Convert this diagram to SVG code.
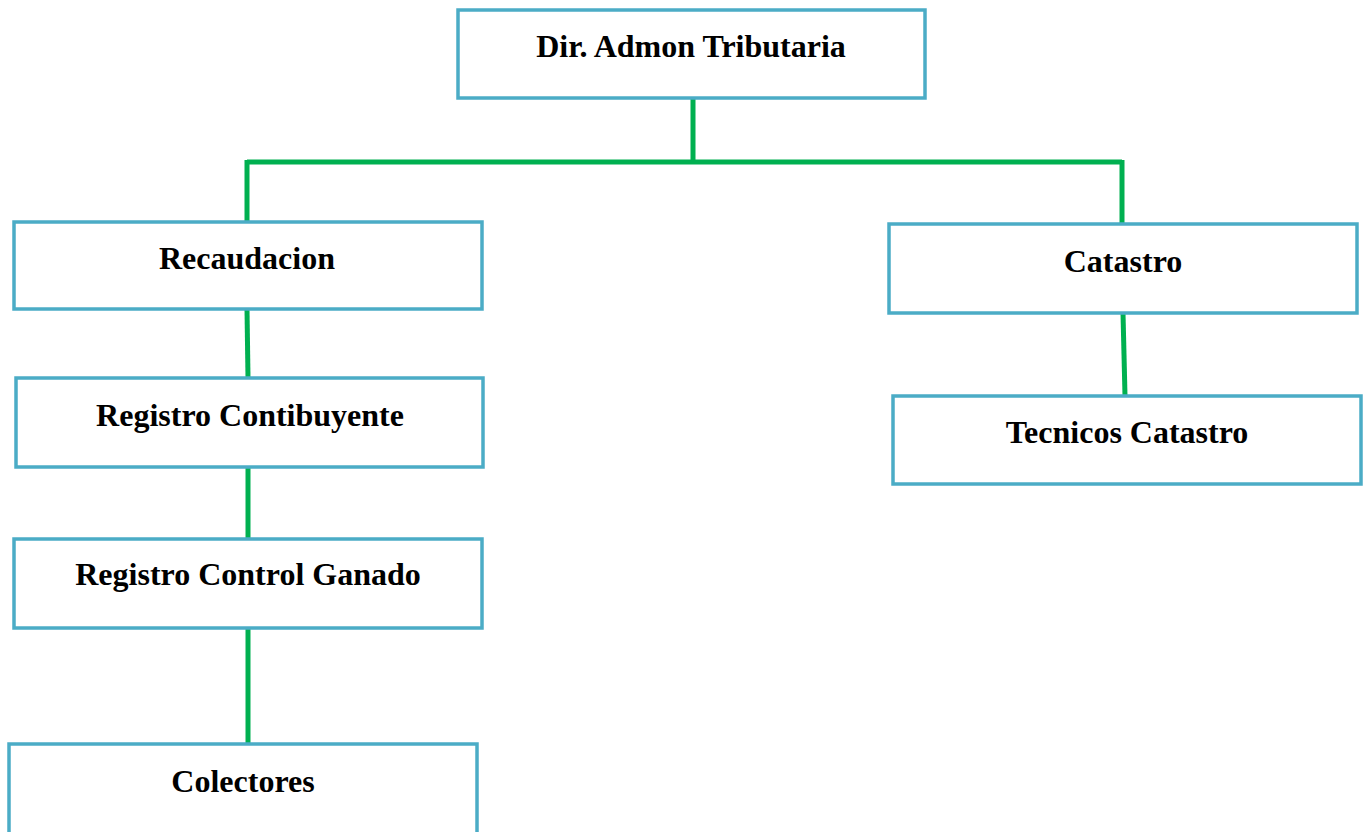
<svg xmlns="http://www.w3.org/2000/svg" width="1369" height="832" viewBox="0 0 1369 832">
<style>
.box{fill:#ffffff;stroke:#4BACC6;stroke-width:3.5}
.lbl{font-family:"Liberation Serif","Times New Roman",serif;font-weight:bold;font-size:32px;fill:#000;text-anchor:middle}
.con{stroke:#00B050;stroke-width:5;fill:none}
</style>
<rect width="1369" height="832" fill="#ffffff"/>
<g id="connectors">
<path class="con" d="M693 98 V162 M247 162 H1122 M247 160 V222 M1122 160 V224"/>
<path class="con" d="M247 309 L248 378"/>
<path class="con" d="M248 467 V539"/>
<path class="con" d="M248 628 V744"/>
<path class="con" d="M1123 313 L1125 396"/>
</g>
<g id="n-dir"><rect class="box" x="458" y="10" width="467" height="88"/><text class="lbl" x="691" y="57">Dir. Admon Tributaria</text></g>
<g id="n-recaudacion"><rect class="box" x="14" y="222" width="468" height="87"/><text class="lbl" x="247" y="269">Recaudacion</text></g>
<g id="n-registro-contribuyente"><rect class="box" x="16" y="378" width="467" height="89"/><text class="lbl" x="250" y="426">Registro Contibuyente</text></g>
<g id="n-registro-ganado"><rect class="box" x="14" y="539" width="468" height="89"/><text class="lbl" x="248" y="585">Registro Control Ganado</text></g>
<g id="n-colectores"><rect class="box" x="9" y="744" width="468" height="100"/><text class="lbl" x="243" y="792">Colectores</text></g>
<g id="n-catastro"><rect class="box" x="889" y="224" width="468" height="89"/><text class="lbl" x="1123" y="272">Catastro</text></g>
<g id="n-tecnicos"><rect class="box" x="893" y="396" width="468" height="88"/><text class="lbl" x="1127" y="443">Tecnicos Catastro</text></g>
</svg>
